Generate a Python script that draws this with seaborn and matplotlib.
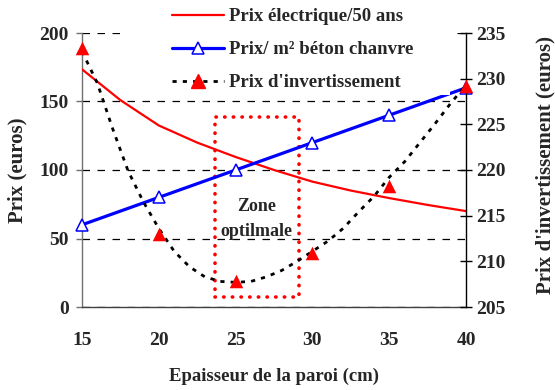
import matplotlib
matplotlib.use("Agg")
import matplotlib.pyplot as plt
from matplotlib.lines import Line2D
from matplotlib.patches import Rectangle
import seaborn as sns
import pandas as pd

# ---- data ----
epaisseur = [15, 20, 25, 30, 35, 40]
prix_beton = [60, 80, 100, 120, 140, 160]
prix_invest = [233.4, 213.0, 207.8, 210.9, 218.3, 229.2]

elec_x = [15, 17.5, 20, 22.5, 25, 27.5, 30, 32.5, 35, 37.5, 40]
prix_elec = [173.5, 151, 132.5, 120, 109.5, 100, 91.5, 85, 79.5, 74.5, 70]

courbe_x = [15, 16, 17, 18, 19, 20, 21, 22, 23, 24, 25, 26, 27, 28, 29, 30,
            31, 32, 33, 34, 35, 36, 37, 38, 39, 40]
courbe_invest = [233.0, 229.5, 224.5, 219.9, 216.5, 213.6, 211.1, 209.4, 208.3,
                 207.8, 207.7, 207.8, 208.3, 209.0, 210.0, 211.1, 212.2, 213.6,
                 215.4, 217.1, 219.2, 220.9, 223.0, 225.1, 227.3, 229.3]

x_ticks = [15, 20, 25, 30, 35, 40]
left_ticks = [0, 50, 100, 150, 200]
right_ticks = [205, 210, 215, 220, 225, 230, 235]

labels = ["Prix électrique/50 ans", "Prix/ m² béton chanvre", "Prix d'invertissement"]
zone_label = "Zone\noptilmale"

# ---- style ----
sns.set_style("white")
plt.rcParams["font.family"] = ["Liberation Serif", "DejaVu Serif"]
plt.rcParams["font.weight"] = "bold"
plt.rcParams["axes.labelweight"] = "bold"

fig = plt.figure(figsize=(5.55, 3.90), dpi=100)
ax = fig.add_axes([82/555, 1 - 307/390, (466-82)/555, (307-33)/390])
ax2 = ax.twinx()

df_e = pd.DataFrame({"x": elec_x, "y": prix_elec})
df_b = pd.DataFrame({"x": epaisseur, "y": prix_beton})
df_c = pd.DataFrame({"x": courbe_x, "y": courbe_invest})
df_i = pd.DataFrame({"x": epaisseur, "y": prix_invest})

sns.lineplot(data=df_e, x="x", y="y", ax=ax, color="#ff0000", lw=1.6, zorder=3)
sns.lineplot(data=df_b, x="x", y="y", ax=ax, color="#0000ff", lw=2.3, marker="^",
             markersize=8, markerfacecolor="white", markeredgecolor="#0000ff",
             markeredgewidth=1.1, clip_on=False, zorder=4)
sns.lineplot(data=df_c, x="x", y="y", ax=ax2, color="black", lw=2.0,
             dashes=(1.5, 2.2), zorder=3)
sns.scatterplot(data=df_i, x="x", y="y", ax=ax2, color="#ff0000", marker="^",
                s=95, edgecolor="#ff0000", linewidth=0, clip_on=False, zorder=5)

# zone optimale
rect = Rectangle((23.66, 7.3), 29.13 - 23.66, 138.7 - 7.3, fill=False,
                 edgecolor="#ff0000", lw=2.6, linestyle=(0, (0.1, 2.3)),
                 capstyle="round", zorder=2)
ax.add_patch(rect)
ax.text(26.35, 64.0, zone_label, ha="center", va="center", fontsize=13,
        fontweight="bold", linespacing=1.6, zorder=3)

# axes
ax.set_xlim(15, 40)
ax.set_ylim(0, 200)
ax2.set_ylim(205, 235)
ax.set_xticks(x_ticks)
ax.set_yticks(left_ticks)
ax2.set_yticks(right_ticks)
ax.set_xticklabels([str(v) for v in x_ticks])
ax.set_yticklabels([str(v) for v in left_ticks])
ax2.set_yticklabels([str(v) for v in right_ticks])

ax.yaxis.grid(True, color="black", lw=0.9, linestyle=(0, (6, 6)))
ax.xaxis.grid(False)
ax.set_axisbelow(True)

for s in ["top", "right"]:
    ax.spines[s].set_visible(False)
ax2.spines["top"].set_visible(False)
ax2.spines["left"].set_visible(False)
ax2.spines["bottom"].set_visible(False)
ax.spines["left"].set_color("#707070")
ax.spines["bottom"].set_color("#404040")
ax2.spines["right"].set_color("black")
for sp in [ax.spines["left"], ax.spines["bottom"], ax2.spines["right"]]:
    sp.set_linewidth(1.0)

ax.tick_params(axis="x", direction="out", length=4, width=1, color="#404040",
               pad=14, labelsize=14)
ax.tick_params(axis="y", direction="out", length=4.5, width=1, color="#707070",
               pad=5, labelsize=14)
ax2.tick_params(axis="y", direction="inout", length=9, width=1, color="black",
                pad=3, labelsize=14)
for lab in ax.get_xticklabels() + ax.get_yticklabels() + ax2.get_yticklabels():
    lab.set_fontweight("bold")

ax.set_xlabel("Epaisseur de la paroi (cm)", fontsize=13.5, fontweight="bold")
ax.set_ylabel("Prix (euros)", fontsize=15, fontweight="bold")
ax2.set_ylabel("Prix d'invertissement (euros)", fontsize=15, fontweight="bold")
ax.xaxis.set_label_coords(0.5, -0.223)
ax.yaxis.set_label_coords(-0.143, 0.5)
ax2.yaxis.set_label_coords(1.18, 0.518)

# white area behind legend (covers grid like the original)
cover = Rectangle((122/555, 1 - 95/390), (450-122)/555, 95/390,
                  transform=fig.transFigure, facecolor="white", edgecolor="none",
                  zorder=1)
fig.patches.append(cover)

handles = [
    Line2D([], [], color="#ff0000", lw=1.6),
    Line2D([], [], color="#0000ff", lw=2.3, marker="^", markersize=8,
           markerfacecolor="white", markeredgecolor="#0000ff", markeredgewidth=1.1),
    Line2D([], [], color="black", lw=2.0, dashes=(1.5, 2.2), marker="^",
           markersize=10, markerfacecolor="#ff0000", markeredgecolor="#ff0000"),
]
leg = fig.legend(handles, labels, loc="upper left",
                 bbox_to_anchor=(172/555, 1 - 8/390), frameon=False,
                 borderpad=0, borderaxespad=0, handlelength=2.75,
                 handletextpad=0.3, labelspacing=0.85,
                 prop={"family": "Liberation Serif", "weight": "bold", "size": 13.5})
leg.set_zorder(6)

fig.savefig("out.png", dpi=100)
